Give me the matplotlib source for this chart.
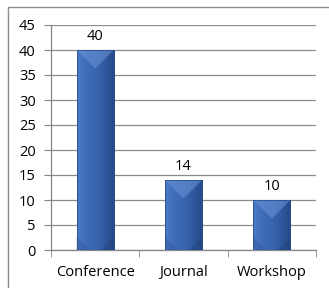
import numpy as np
import matplotlib
matplotlib.use('Agg')
import matplotlib.pyplot as plt
from matplotlib.patches import Polygon, Rectangle
from matplotlib.colors import LinearSegmentedColormap

categories = ["Conference", "Journal", "Workshop"]
counts = [40, 14, 10]
y_ticks = list(range(0, 50, 5))

plt.rcParams['font.family'] = ['Open Sans', 'DejaVu Sans']

fig = plt.figure(figsize=(3.29, 2.88), dpi=100)
ax = fig.add_axes([51 / 329, 1 - 250 / 288, 265 / 329, 225 / 288])

# chart border (Excel style), bottom/right run off the image
fig.patches.append(Rectangle((8 / 329, -0.05), 1.0, 1 - 7 / 288 + 0.05,
                             transform=fig.transFigure, fill=False,
                             edgecolor='#8c8c8c', linewidth=1.0))

ax.set_xlim(-0.5, len(categories) - 0.5)
ax.set_ylim(0, 45)

bars = ax.bar(range(len(categories)), counts, width=0.42, color='#3a66b0',
              edgecolor='none', zorder=3)
ax.set_xlim(-0.5, len(categories) - 0.5)
ax.set_ylim(0, 45)

grad = LinearSegmentedColormap.from_list(
    'bevel', ['#4c7bc6', '#3f6cb8', '#3a66b0', '#31599f', '#274a86'])
xs = np.linspace(0, 1, 64).reshape(1, -1)

# bevel depth: half the bar width, converted from pixels to y units
p0 = ax.transData.transform((0, 0))
p1 = ax.transData.transform((1, 1))
px_per_x = p1[0] - p0[0]
px_per_y = p1[1] - p0[1]

for b in bars:
    x0, w, h = b.get_x(), b.get_width(), b.get_height()
    im = ax.imshow(xs, cmap=grad, extent=(x0, x0 + w, 0, h), aspect='auto',
                   origin='lower', zorder=3)
    im.set_clip_path(b)
    d = min(w * px_per_x / 2 / px_per_y, h)
    top = Polygon([(x0, h), (x0 + w, h), (x0 + w / 2, h - d)], closed=True,
                  facecolor='#6a95d6', alpha=0.55, edgecolor='none', zorder=4)
    ax.add_patch(top)
    bl = Polygon([(x0, 0), (x0 + w * 0.35, 0), (x0, d * 0.7)], closed=True,
                 facecolor='#24467f', alpha=0.3, edgecolor='none', zorder=4)
    ax.add_patch(bl)
    br = Polygon([(x0 + w, 0), (x0 + w * 0.65, 0), (x0 + w, d * 0.7)], closed=True,
                 facecolor='#1d3a6b', alpha=0.3, edgecolor='none', zorder=4)
    ax.add_patch(br)
    ax.add_patch(Rectangle((x0, 0), w, h, fill=False, edgecolor='#2a4f8f',
                           linewidth=0.6, zorder=5))
    ax.text(b.get_x() + w / 2, h + 1.3, str(int(h)), ha='center', va='bottom',
            fontsize=10.5, color='#000000')

ax.set_xlim(-0.5, len(categories) - 0.5)
ax.set_ylim(0, 45)
ax.set_yticks(y_ticks)
ax.set_yticklabels([str(v) for v in y_ticks], fontsize=10.5)
ax.set_xticks(range(len(categories)))
ax.set_xticklabels(categories, fontsize=10.5)
ax.tick_params(axis='x', which='major', length=0, pad=11)
ax.set_xticks(np.arange(-0.5, len(categories)), minor=True)
ax.tick_params(axis='x', which='minor', length=5, color='#868686', direction='out')
ax.tick_params(axis='y', length=5, color='#868686', pad=6)

ax.grid(axis='y', color='#8c8c8c', linewidth=0.9, zorder=0)
for s in ['top', 'right']:
    ax.spines[s].set_visible(False)
for s in ['left', 'bottom']:
    ax.spines[s].set_color('#868686')
    ax.spines[s].set_linewidth(0.9)

fig.savefig('out.png', dpi=100)
